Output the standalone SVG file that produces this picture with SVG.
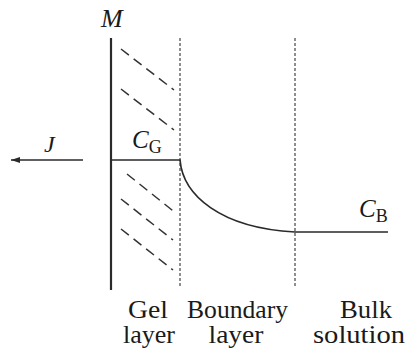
<svg xmlns="http://www.w3.org/2000/svg" width="410" height="353" viewBox="0 0 410 353">
<style>
.t{font-family:"Liberation Serif","Times New Roman",serif;fill:#1a1a1a}
.i{font-style:italic}
.solid{stroke:#2a2a2a;fill:none;stroke-width:1.7}
.dot{stroke:#444;fill:none;stroke-width:1.2;stroke-dasharray:3 2}
.hatch{stroke:#333;fill:none;stroke-width:1.5;stroke-dasharray:10 6}
</style>
<defs>
<marker id="ah" markerWidth="10" markerHeight="8" refX="9" refY="4" orient="auto" markerUnits="userSpaceOnUse">
<path d="M0,1 L9,4 L0,7 Z" fill="#2a2a2a"/>
</marker>
</defs>
<rect width="410" height="353" fill="#fff"/>
<g id="membrane">
<line x1="111" y1="38" x2="111" y2="290" stroke="#2a2a2a" stroke-width="2.2"/>
<text class="t i" x="101" y="27" font-size="26">M</text>
</g>
<g id="gel-layer">
<line class="dot" x1="180" y1="38" x2="180" y2="288"/>
<line class="hatch" x1="121" y1="49" x2="174" y2="90"/>
<line class="hatch" x1="121" y1="89" x2="174" y2="130"/>
<line class="hatch" x1="127" y1="174" x2="177" y2="214"/>
<line class="hatch" x1="121" y1="199" x2="173" y2="240"/>
<line class="hatch" x1="121" y1="229" x2="173" y2="270"/>
<text class="t" x="148" y="318" font-size="25" text-anchor="middle" textLength="40" lengthAdjust="spacingAndGlyphs">Gel</text>
<text class="t" x="149" y="343" font-size="25" text-anchor="middle" textLength="52" lengthAdjust="spacingAndGlyphs">layer</text>
</g>
<g id="boundary-layer">
<line class="dot" x1="295" y1="38" x2="295" y2="288"/>
<text class="t" x="237.5" y="318" font-size="25" text-anchor="middle" textLength="101" lengthAdjust="spacingAndGlyphs">Boundary</text>
<text class="t" x="236" y="343" font-size="25" text-anchor="middle" textLength="55" lengthAdjust="spacingAndGlyphs">layer</text>
</g>
<g id="bulk-solution">
<text class="t" x="366" y="318" font-size="25" text-anchor="middle" textLength="52" lengthAdjust="spacingAndGlyphs">Bulk</text>
<text class="t" x="359" y="343" font-size="25" text-anchor="middle" textLength="92" lengthAdjust="spacingAndGlyphs">solution</text>
</g>
<g id="connectors">
<line class="solid" x1="83" y1="160" x2="11" y2="160" marker-end="url(#ah)"/>
<path class="solid" d="M111,160 H180 C183,195 220,228 295,232 H388"/>
</g>
<g id="labels">
<text class="t i" x="44" y="152" font-size="24">J</text>
<text class="t" x="132" y="148" font-size="25"><tspan class="i">C</tspan><tspan font-size="18" dy="5">G</tspan></text>
<text class="t" x="359" y="217" font-size="25"><tspan class="i">C</tspan><tspan font-size="18" dy="5">B</tspan></text>
</g>
</svg>
